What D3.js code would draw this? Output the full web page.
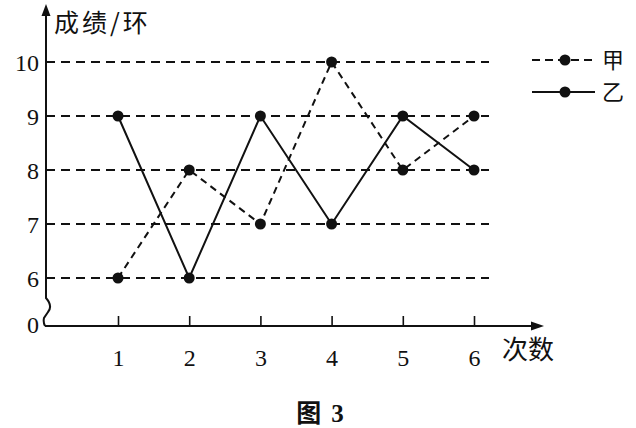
<!DOCTYPE html>
<html>
<head>
<meta charset="utf-8">
<script src="https://cdn.jsdelivr.net/npm/d3@7"></script>
<style>
  html, body { margin: 0; padding: 0; background: #fff; }
  svg { display: block; }
  .num { font-family: "Liberation Serif", "Times New Roman", serif; fill: #111; }
  .cjk { font-family: "Noto Sans CJK SC", sans-serif; fill: #111; }
</style>
</head>
<body>
<div id="chart"></div>
<script>
// DATA
const rounds = [1, 2, 3, 4, 5, 6];
const jia = [6, 8, 7, 10, 8, 9];   // dashed
const yi = [9, 6, 9, 7, 9, 8];     // solid
const yTicks = [6, 7, 8, 9, 10];
const seriesNames = ["甲", "乙"];

// CONSTANTS
const w = 636;
const h = 428;
const originX = 46;
const originY = 326;
const gridEnd = 489;

const svg = d3.select("#chart")
    .append("svg")
    .attr("width", w)
    .attr("height", h);

// SCALES (axis has a break between 0 and 6)
const xScale = d3.scaleLinear().domain([1, 6]).range([118, 474]);
const yScale = d3.scaleLinear().domain([6, 10]).range([278, 62]);

// GRID
svg.append("g")
    .selectAll("line")
    .data(yTicks)
    .enter()
    .append("line")
    .attr("x1", originX)
    .attr("x2", gridEnd)
    .attr("y1", d => yScale(d))
    .attr("y2", d => yScale(d))
    .attr("stroke", "#111")
    .attr("stroke-width", 2)
    .attr("stroke-dasharray", "9,6");

// Y AXIS with break
svg.append("path")
    .attr("d", `M${originX},12 L${originX},298 Q${originX + 7},306 ${originX + 2},312 L${originX - 2},318 Q${originX - 3},322 ${originX - 1},${originY}`)
    .attr("fill", "none")
    .attr("stroke", "#111")
    .attr("stroke-width", 2);
svg.append("path")
    .attr("d", `M${originX},4 L${originX - 4.5},16 L${originX + 4.5},16 Z`)
    .attr("fill", "#111");

// X AXIS
const xAxis = d3.axisBottom(xScale)
    .tickValues(rounds)
    .tickSize(-10)
    .tickFormat(d3.format("d"));
const gx = svg.append("g")
    .attr("transform", `translate(0, ${originY})`)
    .call(xAxis);
gx.select(".domain").remove();
gx.attr("font-family", null);
gx.selectAll(".tick line").attr("stroke", "#111").attr("stroke-width", 1.6);
gx.selectAll(".tick text")
    .attr("class", "num")
    .attr("y", 23)
    .attr("font-size", 24)
    .attr("fill", "#111");
svg.append("line")
    .attr("x1", originX - 1)
    .attr("x2", 535)
    .attr("y1", originY)
    .attr("y2", originY)
    .attr("stroke", "#111")
    .attr("stroke-width", 2);
svg.append("path")
    .attr("d", `M544,${originY} L531,${originY - 4.5} L531,${originY + 4.5} Z`)
    .attr("fill", "#111");

// Y TICK LABELS
svg.append("g")
    .selectAll("text")
    .data(yTicks)
    .enter()
    .append("text")
    .attr("class", "num")
    .attr("x", 39)
    .attr("y", d => yScale(d))
    .attr("dy", "0.36em")
    .attr("text-anchor", "end")
    .attr("font-size", 24)
    .text(d => d);
svg.append("text")
    .attr("class", "num")
    .attr("x", 39)
    .attr("y", originY)
    .attr("dy", "0.3em")
    .attr("text-anchor", "end")
    .attr("font-size", 24)
    .text("0");

// AXIS TITLES
svg.append("text")
    .attr("class", "cjk")
    .attr("x", 54)
    .attr("y", 32)
    .attr("font-size", 25)
    .attr("letter-spacing", 3)
    .text("成绩/环");
svg.append("text")
    .attr("class", "cjk")
    .attr("x", 502)
    .attr("y", 359)
    .attr("font-size", 26)
    .text("次数");

// SERIES
const line = d3.line()
    .x((d, i) => xScale(rounds[i]))
    .y(d => yScale(d));

svg.append("path")
    .datum(jia)
    .attr("d", line)
    .attr("fill", "none")
    .attr("stroke", "#111")
    .attr("stroke-width", 2)
    .attr("stroke-dasharray", "7,5");
svg.append("path")
    .datum(yi)
    .attr("d", line)
    .attr("fill", "none")
    .attr("stroke", "#111")
    .attr("stroke-width", 2);

[jia, yi].forEach(series => {
    svg.append("g")
        .selectAll("circle")
        .data(series)
        .enter()
        .append("circle")
        .attr("cx", (d, i) => xScale(rounds[i]))
        .attr("cy", d => yScale(d))
        .attr("r", 5.5)
        .attr("fill", "#111");
});

// LEGEND
const legend = svg.append("g");
const legendY = [60, 92];
legend.selectAll("line")
    .data(seriesNames)
    .enter()
    .append("line")
    .attr("x1", 532)
    .attr("x2", 595)
    .attr("y1", (d, i) => legendY[i])
    .attr("y2", (d, i) => legendY[i])
    .attr("stroke", "#111")
    .attr("stroke-width", 2)
    .attr("stroke-dasharray", (d, i) => i === 0 ? "8,5" : null);
legend.selectAll("circle")
    .data(seriesNames)
    .enter()
    .append("circle")
    .attr("cx", 565)
    .attr("cy", (d, i) => legendY[i])
    .attr("r", 5.5)
    .attr("fill", "#111");
legend.selectAll("text")
    .data(seriesNames)
    .enter()
    .append("text")
    .attr("class", "cjk")
    .attr("x", 602)
    .attr("y", (d, i) => legendY[i])
    .attr("dy", "0.36em")
    .attr("font-size", 22)
    .text(d => d);

// CAPTION
svg.append("text")
    .attr("x", 320)
    .attr("y", 422)
    .attr("text-anchor", "middle")
    .attr("font-size", 25)
    .attr("font-weight", "bold")
    .attr("fill", "#111")
    .html('<tspan font-family="Noto Sans CJK SC">图</tspan><tspan font-family="Liberation Serif, serif" dx="10">3</tspan>');
</script>
</body>
</html>
